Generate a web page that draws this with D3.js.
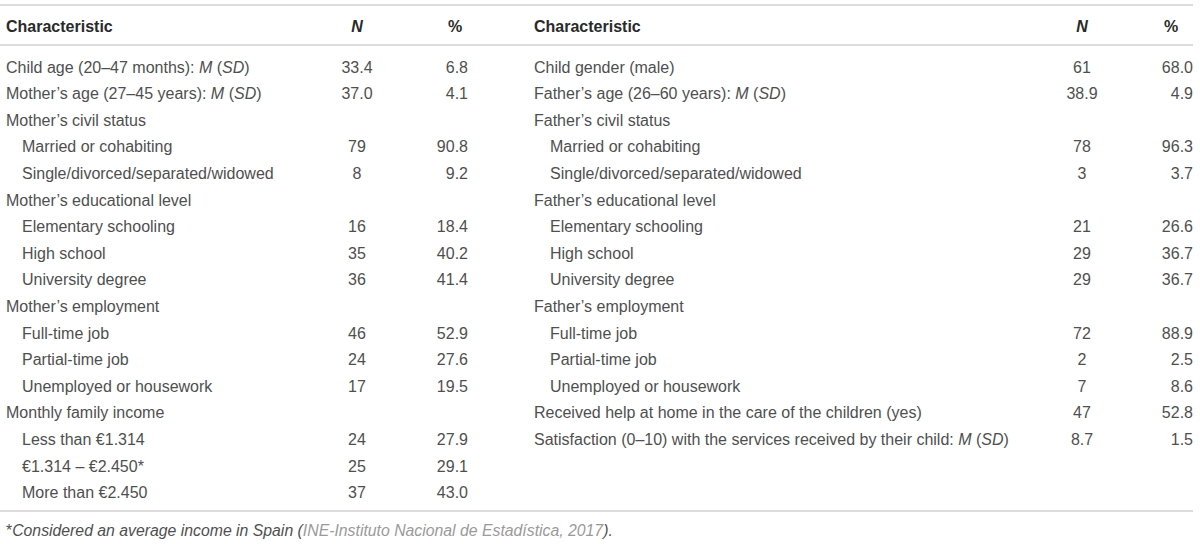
<!DOCTYPE html>
<html><head><meta charset="utf-8">
<script src="https://cdn.jsdelivr.net/npm/d3@7"></script>
<style>body{margin:0;background:#fff}</style>
</head><body><svg id="c" width="1200" height="544"></svg>
<script>
const headers = ["Characteristic", "N", "%"];

const leftLabels = [
  "Child age (20–47 months): _M_ (_SD_)",
  "Mother’s age (27–45 years): _M_ (_SD_)",
  "Mother’s civil status",
  "Married or cohabiting",
  "Single/divorced/separated/widowed",
  "Mother’s educational level",
  "Elementary schooling",
  "High school",
  "University degree",
  "Mother’s employment",
  "Full-time job",
  "Partial-time job",
  "Unemployed or housework",
  "Monthly family income",
  "Less than €1.314",
  "€1.314 – €2.450*",
  "More than €2.450"
];
const leftLevels = [0,0,0,1,1,0,1,1,1,0,1,1,1,0,1,1,1];
const leftN   = [33.4, 37.0, null, 79, 8, null, 16, 35, 36, null, 46, 24, 17, null, 24, 25, 37];
const leftPct = [6.8, 4.1, null, 90.8, 9.2, null, 18.4, 40.2, 41.4, null, 52.9, 27.6, 19.5, null, 27.9, 29.1, 43.0];

const rightLabels = [
  "Child gender (male)",
  "Father’s age (26–60 years): _M_ (_SD_)",
  "Father’s civil status",
  "Married or cohabiting",
  "Single/divorced/separated/widowed",
  "Father’s educational level",
  "Elementary schooling",
  "High school",
  "University degree",
  "Father’s employment",
  "Full-time job",
  "Partial-time job",
  "Unemployed or housework",
  "Received help at home in the care of the children (yes)",
  "Satisfaction (0–10) with the services received by their child: _M_ (_SD_)"
];
const rightLevels = [0,0,0,1,1,0,1,1,1,0,1,1,1,0,0];
const rightN   = [61, 38.9, null, 78, 3, null, 21, 29, 29, null, 72, 2, 7, 47, 8.7];
const rightPct = [68.0, 4.9, null, 96.3, 3.7, null, 26.6, 36.7, 36.7, null, 88.9, 2.5, 8.6, 52.8, 1.5];

const footnoteParts = [
  {t: "*", style: "normal", link: false},
  {t: "Considered an average income in Spain (", style: "italic", link: false},
  {t: "INE-Instituto Nacional de Estadística, 2017", style: "italic", link: true},
  {t: ").", style: "italic", link: false}
];

// ---------- drawing ----------
const svg = d3.select("#c");
const FONT = "'Liberation Sans', Arial, Helvetica, sans-serif";
const TEXT = "#4f4f4f";
const HEAD = "#2a2a2a";
const RULE = "#dcdcdc";

const nRows = Math.max(leftLabels.length, rightLabels.length);
const y = d3.scaleLinear().domain([0, nRows - 1]).range([72.5, 498.3]);

const fmt1 = d3.format(".1f"), fmtInt = d3.format("d");

function rule(yy) {
  svg.append("line").attr("x1", 0).attr("x2", 1193).attr("y1", yy).attr("y2", yy)
    .attr("stroke", RULE).attr("stroke-width", 2);
}
rule(5); rule(45); rule(511);

function richText(sel, str) {
  const parts = str.split(/(_[^_]+_)/).filter(s => s.length);
  parts.forEach(p => {
    const it = p.startsWith("_") && p.endsWith("_");
    sel.append("tspan").text(it ? p.slice(1, -1) : p)
      .attr("font-style", it ? "italic" : "normal");
  });
}

function drawTable(cfg) {
  const g = svg.append("g").attr("font-family", FONT).attr("font-size", 16);
  g.append("text").attr("x", cfg.xLabel).attr("y", 31.5).attr("font-weight", "bold")
    .attr("fill", HEAD).text(headers[0]);
  g.append("text").attr("x", cfg.xN).attr("y", 31.5).attr("font-weight", "bold")
    .attr("font-style", "italic").attr("text-anchor", "middle").attr("fill", HEAD).text(headers[1]);
  g.append("text").attr("x", cfg.xPctHead).attr("y", 31.5).attr("font-weight", "bold")
    .attr("text-anchor", "middle").attr("fill", HEAD).text(headers[2]);

  const rows = cfg.labels.map((l, i) => ({label: l, level: cfg.levels[i], n: cfg.n[i], pct: cfg.pct[i], i}));
  const row = g.selectAll("g.row").data(rows).join("g").attr("class", "row");
  row.append("text")
    .attr("x", d => cfg.xLabel + d.level * 16)
    .attr("y", d => y(d.i)).attr("fill", TEXT)
    .each(function(d) { richText(d3.select(this), d.label); });
  row.filter(d => d.n != null).append("text")
    .attr("x", cfg.xN).attr("y", d => y(d.i)).attr("text-anchor", "middle").attr("fill", TEXT)
    .text(d => d.label.includes("_M_") ? fmt1(d.n) : fmtInt(d.n));
  row.filter(d => d.pct != null).append("text")
    .attr("x", cfg.xPct).attr("y", d => y(d.i)).attr("text-anchor", "end").attr("fill", TEXT)
    .text(d => fmt1(d.pct));
}

drawTable({labels: leftLabels, levels: leftLevels, n: leftN, pct: leftPct,
  xLabel: 6, xN: 357, xPct: 468, xPctHead: 455});
drawTable({labels: rightLabels, levels: rightLevels, n: rightN, pct: rightPct,
  xLabel: 534, xN: 1082, xPct: 1193, xPctHead: 1171});

const fn = svg.append("text").attr("x", 6).attr("y", 536)
  .attr("font-family", FONT).attr("font-size", 15.8).attr("fill", TEXT);
fn.selectAll("tspan").data(footnoteParts).join("tspan")
  .attr("font-style", d => d.style)
  .attr("fill", d => d.link ? "#9a9a9a" : TEXT)
  .text(d => d.t);
</script>
</body></html>
